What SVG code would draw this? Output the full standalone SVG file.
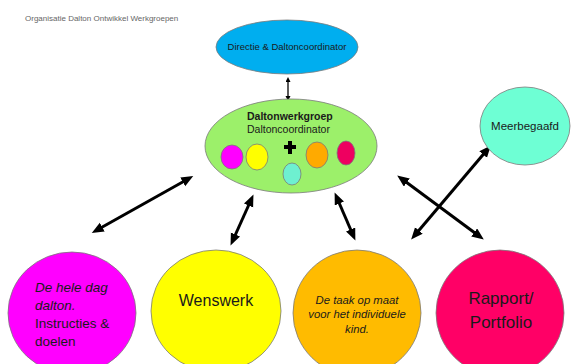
<svg xmlns="http://www.w3.org/2000/svg" width="572" height="364" viewBox="0 0 572 364">
<style>
text{font-family:"Liberation Sans",Arial,sans-serif;fill:#1a1a1a}
.n{stroke:#7a7a7a;stroke-width:0.8}
.big{stroke:#000;stroke-width:3;fill:none;marker-start:url(#ah);marker-end:url(#ah)}
.thin{stroke:#000;stroke-width:1.3;fill:none;marker-start:url(#as);marker-end:url(#as)}
</style>
<defs>
<marker id="ah" markerUnits="userSpaceOnUse" markerWidth="13" markerHeight="11" refX="6" refY="5" orient="auto-start-reverse" viewBox="0 0 13 11">
<path d="M0,0 L12,5 L0,10 z" fill="#000"/>
</marker>
<marker id="as" markerUnits="userSpaceOnUse" markerWidth="6" markerHeight="6" refX="3" refY="2.5" orient="auto-start-reverse" viewBox="0 0 6 6">
<path d="M0,0 L5,2.5 L0,5 z" fill="#000"/>
</marker>
</defs>
<rect width="572" height="364" fill="#fff"/>
<text x="25" y="21" font-size="8" style="fill:#666">Organisatie Dalton Ontwikkel Werkgroepen</text>

<g id="connectors">
<line class="thin" x1="288" y1="79" x2="288" y2="99"/>
<line class="big" x1="97" y1="230" x2="188" y2="179"/>
<line class="big" x1="233" y1="240" x2="251" y2="200"/>
<line class="big" x1="337" y1="198" x2="353" y2="235"/>
<line class="big" x1="402" y1="179" x2="479" y2="236"/>
<line class="big" x1="415" y1="235" x2="487" y2="150"/>
</g>

<g id="directie">
<ellipse class="n" cx="287" cy="47" rx="71" ry="27" fill="#00AEEF"/>
<text x="287" y="50" font-size="9.5" text-anchor="middle">Directie &amp; Daltoncoordinator</text>
</g>

<g id="daltonwerkgroep">
<ellipse class="n" cx="291" cy="146" rx="86" ry="47" fill="#9CF06A"/>
<text x="247" y="120" font-size="10.5" font-weight="bold">Daltonwerkgroep</text>
<text x="247" y="133" font-size="10.5">Daltoncoordinator</text>
<ellipse class="n" cx="232" cy="157" rx="11" ry="12" fill="#FF00FF"/>
<ellipse class="n" cx="257" cy="157" rx="11" ry="13" fill="#FFFF00"/>
<ellipse class="n" cx="292" cy="174" rx="9" ry="11" fill="#6EF0D0"/>
<ellipse class="n" cx="317" cy="155" rx="11" ry="13" fill="#FFAA00"/>
<ellipse class="n" cx="346" cy="153" rx="9" ry="12" fill="#EE0060"/>
<path d="M288,141 h4 v4 h4 v4 h-4 v5 h-4 v-5 h-4 v-4 h4 z" fill="#000"/>
</g>

<g id="meerbegaafd">
<ellipse class="n" cx="525" cy="126" rx="45" ry="39" fill="#6EFFD4"/>
<text x="525" y="130" font-size="11.5" text-anchor="middle">Meerbegaafd</text>
</g>

<g id="heledag">
<ellipse class="n" cx="72" cy="313" rx="64" ry="61" fill="#FF00FF"/>
<text x="35" y="292" font-size="13.5" font-style="italic">De hele dag</text>
<text x="35" y="310" font-size="13.5" font-style="italic">dalton.</text>
<text x="35" y="328" font-size="13.5">Instructies &amp;</text>
<text x="35" y="346" font-size="13.5">doelen</text>
</g>

<g id="wenswerk">
<ellipse class="n" cx="216" cy="311" rx="65" ry="61" fill="#FFFF00"/>
<text x="216" y="306" font-size="16" text-anchor="middle">Wenswerk</text>
</g>

<g id="taak">
<ellipse class="n" cx="357" cy="313" rx="64" ry="63" fill="#FFBB00"/>
<text x="357" y="304" font-size="11.3" font-style="italic" text-anchor="middle">De taak op maat</text>
<text x="357" y="318" font-size="11.3" font-style="italic" text-anchor="middle">voor het individuele</text>
<text x="357" y="333" font-size="11.3" font-style="italic" text-anchor="middle">kind.</text>
</g>

<g id="rapport">
<ellipse class="n" cx="500" cy="313" rx="64" ry="63" fill="#FF0066"/>
<text x="501" y="304" font-size="17" text-anchor="middle">Rapport/</text>
<text x="501" y="328" font-size="17" text-anchor="middle">Portfolio</text>
</g>
</svg>
